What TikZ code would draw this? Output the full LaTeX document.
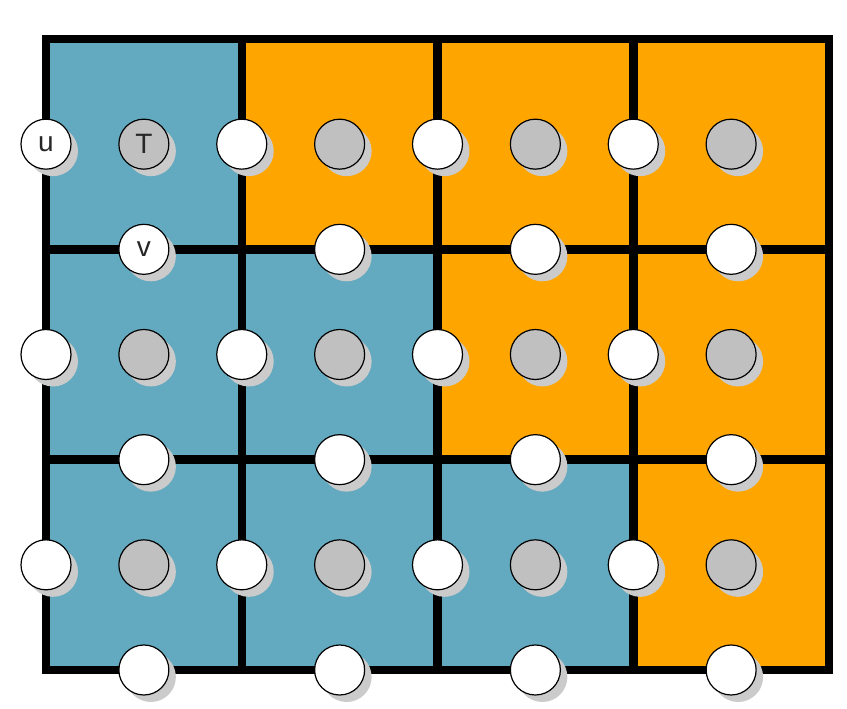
\documentclass[tikz,border=0pt]{standalone}
\usepackage{fontspec}
\setsansfont{Liberation Sans}
\usetikzlibrary{shadows}
\definecolor{cellBlue}{HTML}{63A9BF}
\definecolor{cellOrange}{HTML}{FFA500}
\definecolor{hubGray}{HTML}{C0C0C0}
\definecolor{shadeGray}{HTML}{CBCBCB}
\tikzset{
  port/.style={circle, draw=black, line width=1.2pt, fill=white, minimum size=50pt, inner sep=0pt,
    drop shadow={shadow xshift=7pt, shadow yshift=-7pt, fill=shadeGray, opacity=1}},
  hub/.style={port, fill=hubGray},
  tag/.style={font=\sffamily\fontsize{28}{28}\selectfont, text=black!85, inner sep=0pt},
  wall/.style={line width=8.5pt, line cap=rect},
}
\begin{document}
\begin{tikzpicture}[x=195.75pt, y=-210.33pt]
  \useasboundingbox ([xshift=-46pt,yshift=39pt]0,0) rectangle ([xshift=801pt,yshift=-670pt]0,0);
  % cells
  \foreach \c/\r/\col in {0/0/cellBlue, 1/0/cellOrange, 2/0/cellOrange, 3/0/cellOrange,
                          0/1/cellBlue, 1/1/cellBlue,   2/1/cellOrange, 3/1/cellOrange,
                          0/2/cellBlue, 1/2/cellBlue,   2/2/cellBlue,   3/2/cellOrange}
    \fill[\col] (\c,\r) rectangle ++(1,1);
  % walls
  \draw[wall] (0,0) rectangle (4,3);
  \foreach \c in {1,2,3}
    \draw[wall] (\c,0) -- (\c,3);
  \foreach \r in {1,2}
    \draw[wall] (0,\r) -- (4,\r);
  % ports and hubs
  \foreach \r in {0,1,2}
    \foreach \c in {0,...,3} {
      \node[port] (w-\r-\c) at (\c,\r+0.5) {};
      \node[hub]  (h-\r-\c) at (\c+0.5,\r+0.5) {};
      \node[port] (s-\r-\c) at (\c+0.5,\r+1) {};
    }
  \node[tag] (u) at (w-0-0) {u};
  \node[tag] (T) at (h-0-0) {T};
  \node[tag] (v) at (s-0-0) {v};
\end{tikzpicture}
\end{document}
